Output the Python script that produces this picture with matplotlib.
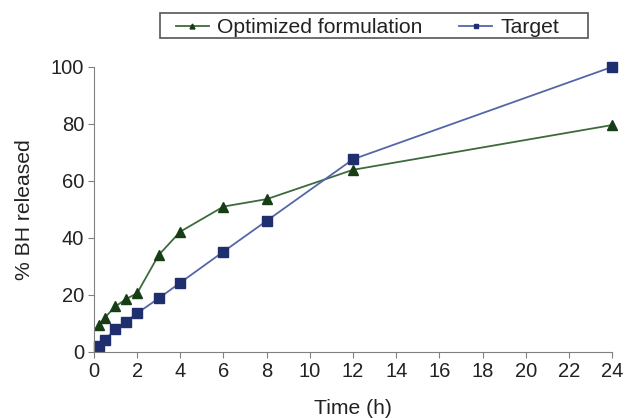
import numpy as np
import matplotlib.pyplot as plt
from matplotlib.patches import Rectangle

plt.rcParams['font.family'] = ['Liberation Sans', 'DejaVu Sans']

time_h = [0.25, 0.5, 1, 1.5, 2, 3, 4, 6, 8, 12, 24]
optimized = [9.5, 12, 16, 18.6, 20.6, 34, 42.2, 51, 53.6, 63.9, 79.6]
target = [2.1, 4.2, 8, 10.6, 13.6, 18.8, 24.3, 35.2, 46, 67.6, 100]
x_ticks = np.arange(0, 25, 2)
y_ticks = np.arange(0, 101, 20)

fs = 14.5
lfs = 15.2
txt = '#222222'
W, H = 626, 418

fig = plt.figure(figsize=(6.26, 4.18), dpi=100)
ax = fig.add_axes([0.150, 0.158, 0.828, 0.682])

ax.plot(time_h, optimized, color='#3d6b3d', lw=1.3, marker='^', ms=6.5,
        mfc='#173d17', mec='#173d17', label='Optimized formulation', clip_on=False)
ax.plot(time_h, target, color='#5566a8', lw=1.3, marker='s', ms=6.5,
        mfc='#1f2f6e', mec='#1f2f6e', label='Target', clip_on=False)

ax.set_xlim(0, 24)
ax.set_ylim(0, 100)
ax.set_xticks(x_ticks)
ax.set_yticks(y_ticks)
for s in ['top', 'right']:
    ax.spines[s].set_visible(False)
for s in ['left', 'bottom']:
    ax.spines[s].set_color('#808080')
ax.tick_params(axis='both', direction='out', length=4, color='#808080',
               labelsize=fs, labelcolor=txt, pad=3)
ax.set_xlabel('Time (h)', fontsize=lfs, color=txt, labelpad=13)
ax.set_ylabel('% BH released', fontsize=lfs, color=txt, labelpad=12)

# legend box drawn by hand, it is wider than the entries
fig.patches.append(Rectangle((160 / W, 1 - 38 / H), 428 / W, 25 / H,
                             transform=fig.transFigure, facecolor='white',
                             edgecolor='#555555', lw=1.2))
leg = fig.legend(loc='upper left', bbox_to_anchor=(176 / W, 1 - 18 / H), ncol=2,
                 fontsize=lfs, frameon=False, markerscale=0.55,
                 handlelength=1.54, handletextpad=0.4, columnspacing=1.75,
                 borderpad=0, borderaxespad=0)
for t in leg.get_texts():
    t.set_color(txt)

fig.savefig('out.png', dpi=100)
